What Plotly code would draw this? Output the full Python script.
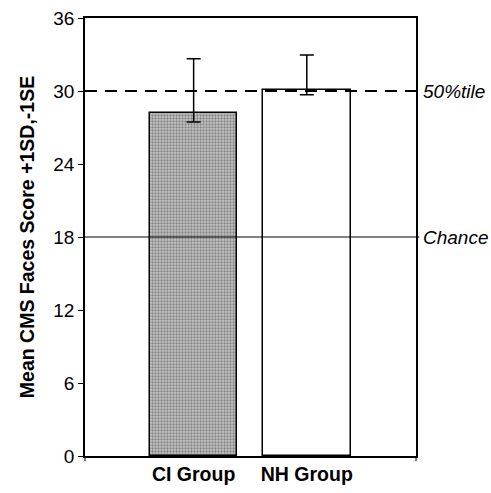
import plotly.graph_objects as go

groups = ["CI Group", "NH Group"]
means = [28.2, 30.1]
plus_sd = [4.45, 2.86]
minus_se = [0.75, 0.4]
ref_values = [30, 18]
ref_labels = ["50%tile", "Chance"]
y_ticks = [0, 6, 12, 18, 24, 30, 36]

FONT = "Arial, Liberation Sans"

fig = go.Figure()
fig.add_trace(go.Bar(
    x=groups, y=means, width=0.775,
    marker=dict(
        color=["#c4c4c4", "white"],
        line=dict(color="black", width=1.5),
        pattern=dict(shape=[".", ""], fgcolor="#8a8a8a", bgcolor="#d2d2d2", size=3, solidity=0.45),
    ),
    error_y=dict(type="data", symmetric=False, array=plus_sd, arrayminus=minus_se,
                 color="black", thickness=1.5, width=7),
    showlegend=False,
))

dashes = ["12px,8px", "solid"]
widths = [2, 1.2]
for v, lab, d, w in zip(ref_values, ref_labels, dashes, widths):
    fig.add_shape(type="line", xref="paper", yref="y", x0=0, x1=1.01, y0=v, y1=v,
                  line=dict(color="black", width=w, dash=d))
    fig.add_annotation(xref="paper", yref="y", x=1.0, xshift=5, y=v, text=f"<i>{lab}</i>",
                       showarrow=False, xanchor="left", yanchor="middle",
                       font=dict(family=FONT, size=19, color="black"))

# category boundary ticks at the ends of x axis
for xp in [0, 1]:
    fig.add_shape(type="line", xref="paper", yref="paper", x0=xp, x1=xp, y0=0, y1=-0.012,
                  line=dict(color="black", width=1))

fig.update_layout(
    width=491, height=493,
    margin=dict(l=85, r=75, t=18, b=37),
    plot_bgcolor="white", paper_bgcolor="white",
    font=dict(family=FONT, size=19, color="black"),
    bargap=0,
)
fig.update_xaxes(
    type="category", range=[-0.96, 1.965], automargin=False,
    showline=True, linecolor="black", linewidth=1.5, mirror=True,
    ticks="", showgrid=False,
    tickfont=dict(family=FONT, size=19.5, color="black", weight="bold"),
)
fig.update_yaxes(
    range=[0, 36], tickvals=y_ticks, ticks="outside", ticklen=5, tickcolor="black",
    showline=True, linecolor="black", linewidth=1.5, mirror=True, showgrid=False,
    zeroline=False, automargin=False,
    tickfont=dict(family=FONT, size=19, color="black"),
    title=dict(text="<b>Mean CMS Faces Score +1SD,-1SE</b>", standoff=13,
               font=dict(family=FONT, size=19.5, color="black")),
)

fig.write_html("out.html", config={"displayModeBar": False},
               post_script="document.body.style.margin='0px';document.body.style.overflow='hidden';")
